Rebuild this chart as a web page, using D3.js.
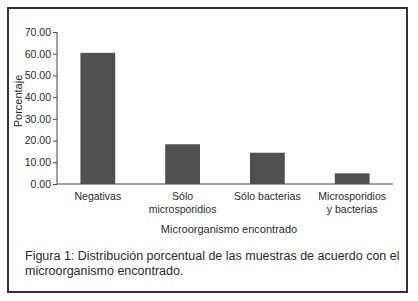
<!DOCTYPE html>
<html><head><meta charset="utf-8">
<script src="https://cdn.jsdelivr.net/npm/d3@7"></script>
<style>body{margin:0;background:#fff;}svg{display:block;}</style>
</head><body>
<svg id="c" width="418" height="301"></svg>
<script>
const categories = [["Negativas"], ["Sólo", "microsporidios"], ["Sólo bacterias"], ["Microsporidios", "y bacterias"]];
const values = [60.4, 18.3, 14.4, 4.9];
const yTicks = [0, 10, 20, 30, 40, 50, 60, 70];
const yTitle = "Porcentaje";
const xTitle = "Microorganismo encontrado";
const caption = ["Figura 1: Distribución porcentual de las muestras de acuerdo con el", "microorganismo encontrado."];

const svg = d3.select("#c");
const font = "Liberation Sans, Arial, sans-serif";
const txt = "#2a2a2a";

svg.append("rect").attr("x", 8).attr("y", 8).attr("width", 399).attr("height", 284)
  .attr("fill", "#fff").attr("stroke", "#333").attr("stroke-width", 2);

const x = d3.scaleBand().domain(d3.range(categories.length)).range([55, 395]).paddingInner(0.59).paddingOuter(0.3);
const y = d3.scaleLinear().domain([0, 70]).range([184, 32]);

const ga = svg.append("g").attr("transform", "translate(57,0)");
ga.call(d3.axisLeft(y).tickValues(yTicks).tickFormat(d3.format(".2f")).tickSize(4).tickPadding(2));
ga.select(".domain").attr("stroke", "#444").attr("d", `M-0,${y(70)}V${y(0)}`);
ga.selectAll(".tick line").attr("stroke", "#444");
ga.selectAll(".tick text").attr("fill", txt).style("font-family", font).style("font-size", "10.5px");

svg.append("line").attr("x1", 57).attr("x2", 393).attr("y1", y(0)).attr("y2", y(0)).attr("stroke", "#444");

svg.selectAll("rect.bar").data(values).enter().append("rect").attr("class", "bar")
  .attr("x", (d, i) => x(i)).attr("width", x.bandwidth())
  .attr("y", d => y(d)).attr("height", d => y(0) - y(d)).attr("fill", "#505050");

categories.forEach((lines, i) => {
  const t = svg.append("text").attr("x", x(i) + x.bandwidth() / 2).attr("y", 200)
    .attr("text-anchor", "middle").attr("fill", txt).style("font-family", font).style("font-size", "10.5px");
  lines.forEach((l, j) => t.append("tspan").attr("x", x(i) + x.bandwidth() / 2).attr("dy", j ? 13 : 0).text(l));
});

svg.append("text").attr("x", 229).attr("y", 233).attr("text-anchor", "middle").attr("fill", txt)
  .style("font-family", font).style("font-size", "11px").text(xTitle);

svg.append("text").attr("transform", "translate(22,101) rotate(-90)").attr("text-anchor", "middle").attr("fill", txt)
  .style("font-family", font).style("font-size", "11px").text(yTitle);

caption.forEach((l, j) => svg.append("text").attr("x", 25).attr("y", 260 + j * 15).attr("fill", txt)
  .style("font-family", font).style("font-size", "12.5px").text(l));
</script>
</body></html>
